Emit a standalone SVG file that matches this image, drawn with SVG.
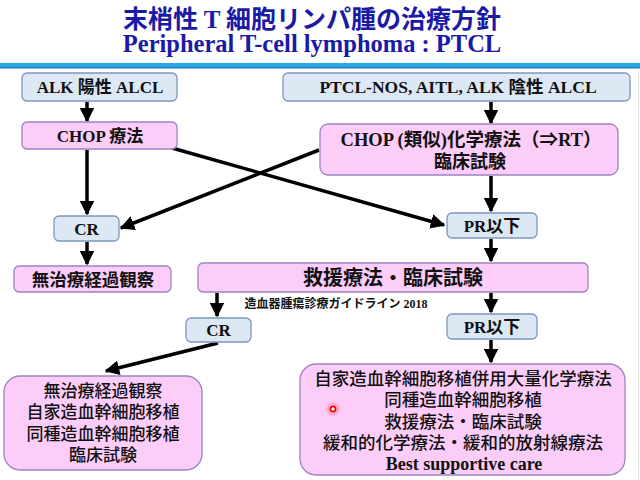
<svg xmlns="http://www.w3.org/2000/svg" width="640" height="480" viewBox="0 0 640 480">
<defs>
<marker id="ah" viewBox="0 0 10 10" refX="9" refY="5" markerWidth="4.2" markerHeight="4.2" markerUnits="strokeWidth" orient="auto">
<path d="M0,0 L10,5 L0,10 z" fill="#000"/>
</marker>
<radialGradient id="glow"><stop offset="0" stop-color="#ff2020" stop-opacity="0.7"/><stop offset="1" stop-color="#ff4040" stop-opacity="0"/></radialGradient>
<style>
.t{font-family:"Liberation Serif","Noto Sans CJK JP",serif;font-weight:bold;fill:#1a1aa6;text-anchor:middle}
.b{fill:#dde8f5;stroke:#7f96bd;stroke-width:1.3}
.p{fill:#fccdf8;stroke:#9b84c0;stroke-width:1.3}
.x{font-family:"Liberation Serif","Noto Sans CJK JP",serif;font-weight:bold;font-size:17px;fill:#111;text-anchor:middle}
.j{font-family:"Noto Sans CJK JP",sans-serif;font-weight:bold;fill:#111;text-anchor:middle}
.c line{stroke:#000;stroke-width:3.5;marker-end:url(#ah)}
</style>
</defs>
<rect width="640" height="480" fill="#fff"/>
<line x1="638.5" y1="70" x2="638.5" y2="480" stroke="#e4e4e4" stroke-width="1"/>
<g id="title">
<text class="t" x="312" y="28" font-size="25" style="font-family:'Noto Sans CJK JP',sans-serif;font-weight:bold">末梢性 <tspan style="font-family:'Liberation Serif',serif">T</tspan> 細胞リンパ腫の治療方針</text>
<text class="t" x="312" y="52" font-size="24.5">Peripheral T-cell lymphoma : PTCL</text>
</g>
<rect x="0" y="63" width="640" height="4" fill="#2aa7e2"/>
<rect x="0" y="67" width="640" height="1.5" fill="#1a7fc0"/>
<g class="c" id="connectors">
<line x1="87" y1="102" x2="87" y2="121"/>
<line x1="491" y1="102" x2="491" y2="123"/>
<line x1="87" y1="150" x2="87" y2="214"/>
<line x1="491" y1="176" x2="491" y2="211"/>
<line x1="172" y1="148" x2="444" y2="225"/>
<line x1="319" y1="150" x2="121" y2="228"/>
<line x1="87" y1="242" x2="87" y2="264"/>
<line x1="491" y1="239" x2="491" y2="261"/>
<line x1="217" y1="293" x2="217" y2="316"/>
<line x1="491" y1="293" x2="491" y2="312"/>
<line x1="218" y1="343" x2="106" y2="371"/>
<line x1="491" y1="340" x2="491" y2="362"/>
</g>
<g id="alk-pos"><rect class="b" x="22" y="73" width="155" height="28" rx="5"/><text class="x" x="100" y="93">ALK 陽性 ALCL</text></g>
<g id="ptcl"><rect class="b" x="283" y="73" width="347" height="28" rx="5"/><text class="x" x="458" y="93" style="font-size:17.5px">PTCL-NOS, AITL, ALK 陰性 ALCL</text></g>
<g id="chop"><rect class="p" x="22" y="122" width="155" height="27" rx="5"/><text class="x" x="100" y="142">CHOP 療法</text></g>
<g id="chop-like"><rect class="p" x="320" y="124" width="298" height="51" rx="8"/><text class="x" x="471" y="146" style="font-size:18.5px">CHOP (類似)化学療法（⇒RT）</text><text class="j" x="470" y="168" font-size="18">臨床試験</text></g>
<g id="cr1"><rect class="b" x="54" y="216" width="65" height="25" rx="5"/><text class="x" x="86.5" y="235">CR</text></g>
<g id="pr1"><rect class="b" x="447" y="213" width="90" height="25" rx="5"/><text class="x" x="492" y="232">PR以下</text></g>
<g id="watch1"><rect class="p" x="14" y="266" width="157" height="26" rx="5"/><text class="j" x="93" y="286" font-size="17.5">無治療経過観察</text></g>
<g id="salvage"><rect class="p" x="198" y="263" width="390" height="29" rx="5"/><text class="j" x="393" y="285" font-size="20">救援療法・臨床試験</text></g>
<text x="336" y="308" font-size="12" font-weight="bold" fill="#111" text-anchor="middle" font-family="Liberation Serif,Noto Sans CJK JP,serif">造血器腫瘍診療ガイドライン 2018</text>
<g id="cr2"><rect class="b" x="186" y="318" width="65" height="24" rx="5"/><text class="x" x="218.5" y="336">CR</text></g>
<g id="pr2"><rect class="b" x="447" y="314" width="90" height="25" rx="5"/><text class="x" x="492" y="333">PR以下</text></g>
<g id="left-out"><rect class="p" x="4" y="376" width="198" height="94" rx="16"/>
<g class="j" style="font-size:17px;font-weight:500">
<text x="103" y="397">無治療経過観察</text>
<text x="103" y="418">自家造血幹細胞移植</text>
<text x="103" y="440">同種造血幹細胞移植</text>
<text x="103" y="461">臨床試験</text></g></g>
<g id="right-out"><rect class="p" x="300" y="364" width="325" height="111" rx="16"/>
<g class="j" style="font-size:17.5px;font-weight:500">
<text x="463" y="385">自家造血幹細胞移植併用大量化学療法</text>
<text x="463" y="406">同種造血幹細胞移植</text>
<text x="463" y="428">救援療法・臨床試験</text>
<text x="463" y="449">緩和的化学療法・緩和的放射線療法</text></g>
<text class="x" x="464" y="470" style="font-size:18px">Best supportive care</text></g>
<circle cx="333" cy="409" r="8" fill="url(#glow)"/>
<circle cx="333" cy="409" r="2.5" fill="#fff" stroke="#e00" stroke-width="1.5"/>
</svg>
